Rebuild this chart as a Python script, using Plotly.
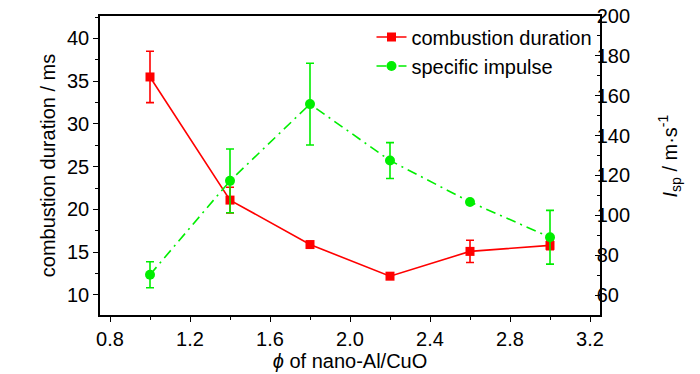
import plotly.graph_objects as go

phi = [1.0, 1.4, 1.8, 2.2, 2.6, 3.0]
duration = [35.5, 21.1, 15.9, 12.2, 15.1, 15.8]
duration_err = [3.0, 1.5, 0.3, 0.3, 1.3, 0.5]
impulse = [70.2, 117.3, 155.8, 127.5, 106.7, 89.0]
impulse_err = [6.5, 16.0, 20.5, 9.0, 1.0, 13.5]

FONT = "Liberation Sans, Arial"
RED = "#ff0000"
GREEN = "#00ee00"

fig = go.Figure()
fig.add_trace(go.Scatter(
    x=phi, y=duration, name="combustion duration", mode="lines+markers",
    line=dict(color=RED, width=1.6),
    marker=dict(symbol="square", size=9, color=RED),
    error_y=dict(type="data", array=duration_err, color=RED, thickness=1.6, width=4),
))
fig.add_trace(go.Scatter(
    x=phi, y=impulse, name="specific impulse", mode="lines+markers", yaxis="y2",
    line=dict(color=GREEN, width=1.6, dash="10px,5px,2px,5px"),
    marker=dict(symbol="circle", size=10, color=GREEN),
    error_y=dict(type="data", array=impulse_err, color=GREEN, thickness=1.6, width=4),
))

axis_common = dict(showline=True, linecolor="black", linewidth=1.5, showgrid=False,
                   zeroline=False, tickcolor="black", tickwidth=1.2, automargin=False,
                   tickfont=dict(size=20, color="black", family=FONT))

fig.update_layout(
    width=700, height=374,
    margin=dict(l=100, r=100, t=16, b=59),
    paper_bgcolor="white", plot_bgcolor="white",
    font=dict(family=FONT, color="black"),
    showlegend=True,
    legend=dict(x=0.995, y=0.995, xanchor="right", yanchor="top",
                bgcolor="rgba(0,0,0,0)", font=dict(size=20, family=FONT),
                tracegroupgap=6),
    xaxis=dict(**axis_common, range=[0.75, 3.25], tick0=0, dtick=0.4, tickformat=".1f",
               ticks="outside", ticklen=5, mirror=True,
               minor=dict(ticks="outside", dtick=0.2, tick0=0, ticklen=3, tickcolor="black"),
               title=dict(text="<i>ϕ</i> of nano-Al/CuO", font=dict(size=20, family=FONT), standoff=0)),
    yaxis=dict(**axis_common, range=[7.66, 42.63], tick0=0, dtick=5, ticks="outside", ticklen=5,
               minor=dict(ticks="outside", dtick=2.5, tick0=0, ticklen=3, tickcolor="black"),
               title=dict(text="combustion duration / ms", font=dict(size=20, family=FONT), standoff=6)),
    yaxis2=dict(**axis_common, overlaying="y", side="right", range=[50, 200], tick0=0, dtick=20,
                ticks="inside", ticklen=5, ticklabelstandoff=-9,
                minor=dict(ticks="inside", dtick=10, tick0=0, ticklen=3, tickcolor="black")),
    annotations=[dict(text="<i>I</i><sub>sp</sub> / m·s<sup>-1</sup>", xref="paper", yref="paper",
                      x=1, y=0.53, xanchor="center", yanchor="middle", xshift=70,
                      textangle=-90, showarrow=False, font=dict(size=20, family=FONT))],
)

fig.write_html("out.html", config={"displayModeBar": False},
               post_script="document.body.style.margin='0';")
